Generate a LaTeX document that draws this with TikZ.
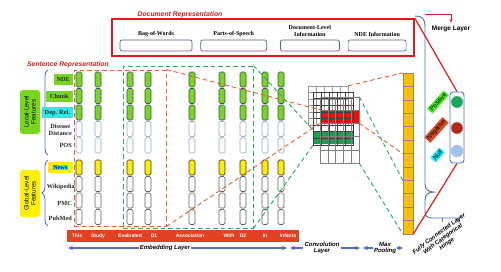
\documentclass[tikz,border=0pt]{standalone}
\usepackage{fontspec}
\setmainfont{Liberation Serif}
\setsansfont{Liberation Sans}
\usepackage{tikz}
\usetikzlibrary{
  positioning,
  arrows.meta,
  decorations.pathreplacing
}
\definecolor{docred}{RGB}{226,26,28}
\definecolor{titlered}{RGB}{204,32,32}
\definecolor{slotborder}{RGB}{80,100,140}
\definecolor{braceblue}{RGB}{76,114,190}
\definecolor{limegreen}{RGB}{120,214,30}
\definecolor{cellborder}{RGB}{60,80,110}
\definecolor{paleborder}{RGB}{150,170,195}
\definecolor{greyborder}{RGB}{95,95,95}
\definecolor{featyellow}{RGB}{255,240,0}
\definecolor{featcyan}{RGB}{50,230,230}
\definecolor{embedred}{RGB}{226,66,34}
\definecolor{poolorange}{RGB}{255,190,0}
\definecolor{poolborder}{RGB}{150,135,100}
\definecolor{convred}{RGB}{250,10,10}
\definecolor{convgreen}{RGB}{20,160,80}
\definecolor{dashred}{RGB}{226,96,56}
\definecolor{dashgreen}{RGB}{40,168,90}
\definecolor{posgreen}{RGB}{70,235,30}
\definecolor{negred}{RGB}{216,76,36}
\definecolor{nullcyan}{RGB}{0,235,245}
\definecolor{circgreen}{RGB}{20,170,90}
\definecolor{circred}{RGB}{180,40,20}
\definecolor{circblue}{RGB}{155,195,235}
\tikzset{
  docbox/.style={
    draw=docred, line width=1.6pt, inner sep=0pt
  },
  slotbox/.style={
    draw=slotborder, rounded corners=2pt, line width=0.7pt,
    minimum height=11pt, inner sep=0pt
  },
  doclabel/.style={
    font=\fontsize{6}{6.5}\selectfont\bfseries, align=center, inner sep=1pt
  },
  titletext/.style={
    font=\sffamily\bfseries\itshape\fontsize{6.8}{8}\selectfont, text=titlered
  },
  featlabel/.style={
    font=\fontsize{6.3}{6.8}\selectfont\bfseries, anchor=east, align=center,
    inner sep=1pt, minimum height=11pt, text=black!85
  },
  levelbox/.style={
    rounded corners=3pt, rotate=90, inner sep=0pt, align=center,
    font=\sffamily\fontsize{6.2}{7}\selectfont, minimum height=20pt
  },
  cell/.style={
    minimum width=6pt, minimum height=15pt, rounded corners=1.5pt,
    line width=0.7pt, inner sep=0pt
  },
  greencell/.style={cell, fill=limegreen, draw=cellborder},
  palecell/.style={cell, fill=white, draw=paleborder},
  yellowcell/.style={cell, fill=featyellow, draw=black!80},
  greycell/.style={cell, fill=white, draw=greyborder},
  redframe/.style={
    draw=dashred, line width=0.9pt, dash pattern=on 4.5pt off 3pt, inner sep=0pt
  },
  greenframe/.style={
    draw=dashgreen, line width=0.9pt, dash pattern=on 4.5pt off 3pt, inner sep=0pt
  },
  reddash/.style={draw=dashred, line width=0.9pt, dash pattern=on 4.5pt off 3pt},
  greendash/.style={draw=dashgreen, line width=0.9pt, dash pattern=on 4.5pt off 3pt},
  embedbar/.style={
    fill=embedred, minimum width=232pt, minimum height=12pt, inner sep=0pt
  },
  wordlabel/.style={
    text=white, font=\sffamily\bfseries\fontsize{5}{6}\selectfont, inner sep=0pt
  },
  gridframe/.style={draw=black!40, line width=0.5pt, inner sep=0pt},
  gridline/.style={line width=0.5pt},
  convrow/.style={minimum width=39pt, minimum height=13pt, inner sep=0pt},
  poolcell/.style={
    fill=poolorange, draw=poolborder, line width=0.5pt,
    minimum width=10pt, minimum height=13.4pt, inner sep=0pt
  },
  clsbox/.style={
    draw=braceblue, rounded corners=3pt, line width=0.9pt,
    minimum width=14pt, minimum height=71pt
  },
  unit/.style={circle, minimum size=12pt, inner sep=0pt, draw=black!25, line width=0.4pt},
  classlabel/.style={
    rotate=48, font=\sffamily\fontsize{6.3}{7}\selectfont, inner sep=1.2pt
  },
  redline/.style={draw=docred, line width=1.2pt},
  mergearrow/.style={-{Stealth[length=3.5pt,width=3pt]}, draw=docred, line width=0.9pt},
  bluebrace/.style={
    decorate, decoration={brace, amplitude=6pt}, draw=braceblue, line width=0.9pt
  },
  braceline/.style={draw=braceblue, line width=0.9pt},
  layerarrow/.style={
    -{Stealth[length=5pt,width=4.5pt]}, draw=braceblue, line width=1.3pt
  },
  layertext/.style={
    font=\sffamily\bfseries\itshape\fontsize{6}{6.5}\selectfont, align=center,
    inner sep=1pt
  }
}

\begin{document}
\begin{tikzpicture}[x=1pt, y=-1pt]
  \useasboundingbox (0,0) rectangle (501,271);

  % document representation
  \node[titletext] (doctitle) at (180,15) {Document Representation};
  \node[docbox, minimum width=302pt, minimum height=37pt] (doc) at (263,37.5) {};
  \node[slotbox, minimum width=72pt] (bow) at (156,45.5) {};
  \node[slotbox, minimum width=66pt, right=8pt of bow] (pos) {};
  \node[slotbox, minimum width=59pt, right=13pt of pos] (dli) {};
  \node[slotbox, minimum width=58pt, right=8pt of dli] (ndeinfo) {};
  \node[doclabel, above=2pt of bow] (bowlab) {Bag-of-Words};
  \node[doclabel, above=2pt of pos] (poslab) {Parts-of-Speech};
  \node[doclabel, above=2pt of dli] (dlilab) {Document-Level\\Information};
  \node[doclabel, above=2pt of ndeinfo] (ndelab) {NDE Information};

  % sentence representation
  \node[titletext] (senttitle) at (68,65) {Sentence Representation};
  \node[levelbox, fill=limegreen, minimum width=44pt] (local) at (30,112) {Local-Level\\Features};
  \node[levelbox, fill=featyellow, minimum width=47pt] (global) at (30,193.5) {Global-Level\\Features};
  \draw[bluebrace] (48,155) -- (48,70);
  \draw[bluebrace] (48,226) -- (48,160);

  \node[featlabel, fill=limegreen, minimum width=19pt] (fnde) at (73,79.5) {NDE};
  \node[featlabel, fill=limegreen, minimum width=27pt] (fchunk) at (73,96) {Chunk};
  \node[featlabel, fill=featcyan, minimum width=31pt] (fdep) at (73,112.5) {Dep. Rel.};
  \node[featlabel] (fdis) at (73,130) {Disease\\Distance};
  \node[featlabel] (fpos) at (73,145.5) {POS};
  \node[featlabel, fill=featyellow, minimum width=25pt] (fnews) at (73,167.5)
    {\setlength\fboxsep{0.6pt}\colorbox{featcyan}{News}};
  \node[featlabel] (fwiki) at (76,187) {Wikipedia};
  \node[featlabel] (fpmc) at (73,203) {PMC};
  \node[featlabel] (fpub) at (73,218) {PubMed};

  % word columns
  \foreach \cx [count=\k] in {79,98,130,148,192,222,243,265,281} {
    \node[greencell] (c\k-1) at (\cx,79.5) {};
    \node[greencell] (c\k-2) at (\cx,96) {};
    \node[greencell] (c\k-3) at (\cx,112.5) {};
    \node[palecell] (c\k-4) at (\cx,129) {};
    \node[palecell] (c\k-5) at (\cx,145.5) {};
    \node[yellowcell] (c\k-6) at (\cx,167.5) {};
    \node[greycell] (c\k-7) at (\cx,184) {};
    \node[greycell] (c\k-8) at (\cx,200.5) {};
    \node[greycell] (c\k-9) at (\cx,217) {};
  }

  \node[embedbar] (embed) at (183,236) {};
  \foreach \wx/\wtext [count=\k] in {77/This, 98/Study, 130/Evaluated, 154/D1,
      190/Association, 229/With, 243/D2, 265/In, 288/Infants}
    \node[wordlabel] (w\k) at (\wx,236) {\wtext};

  % filter windows
  \node[redframe, minimum width=92pt, minimum height=156pt] (win1) at (120,148) {};
  \node[greenframe, minimum width=130pt, minimum height=162pt] (win2) at (188,147) {};

  % convolution maps
  \node[gridframe, minimum width=40pt, minimum height=39pt] (gA) at (328,105.5) {};
  \foreach \gx in {316,324,332,340} \draw[gridline, black!40] (\gx,86) -- (\gx,125);
  \foreach \gy in {92.5,99,105.5,112,118.5} \draw[gridline, black!40] (308,\gy) -- (348,\gy);
  \node[convrow, fill=convred] (redrow) at (339.5,116.5) {};
  \node[convrow, fill=convgreen] (greenrow) at (333.5,137.5) {};
  \node[gridframe, draw=black!75, minimum width=40pt, minimum height=53pt] (gB) at (333,118.5) {};
  \foreach \gx in {321,329,337,345} \draw[gridline, black!75] (\gx,92) -- (\gx,145);
  \foreach \gy in {98.6,105.2,111.8,118.4,125,131.6,138.2} \draw[gridline, black!75] (313,\gy) -- (353,\gy);
  \node[gridframe, draw=black!50, minimum width=39pt, minimum height=66pt] (gC) at (339.5,130) {};
  \foreach \gx in {327.8,335.6,343.4,351.2} \draw[gridline, black!50] (\gx,97) -- (\gx,163);
  \foreach \gy in {110,123,136.5,150} \draw[gridline, black!50] (320,\gy) -- (359,\gy);

  % max pooling
  \foreach \i in {1,...,12}
    \node[poolcell] (p\i) at (408,{79.7+(\i-1)*13.4}) {};

  % dashed links
  \draw[reddash] (win1.north east) -- (redrow.north west);
  \draw[reddash] (win1.south east) -- (redrow.south west);
  \draw[greendash] (win2.north east) -- (greenrow.north west);
  \draw[greendash] (win2.south east) -- (greenrow.south west);
  \draw[reddash] (gA.north east) -- (p1.north west);
  \draw[reddash] (redrow.south east) -- (p6.south west);
  \draw[greendash] (gC.north east) -- (p8.south west);
  \draw[greendash] (gC.south east) -- (p12.south west);

  % classifier
  \node[clsbox] (cls) at (457,127.5) {};
  \node[unit, fill=circgreen] (u1) at (457,102) {};
  \node[unit, fill=circred] (u2) at (457,128) {};
  \node[unit, fill=circblue] (u3) at (457,151) {};
  \node[classlabel, fill=posgreen] (lpos) at (438,102) {Positive};
  \node[classlabel, fill=negred] (lneg) at (436.5,130) {Negative};
  \node[classlabel, fill=nullcyan] (lnull) at (437.5,155) {Null};

  \draw[braceline] (415,16) .. controls (422,16) and (425,19) .. (425,26) -- (425,184)
    .. controls (425,189) and (428,192) .. (434,192)
    .. controls (428,192) and (425,195) .. (425,200) -- (425,211)
    .. controls (425,216) and (427,218) .. (432,218) -- (457,218) -- (459,222);
  \draw[braceline] (442,218) -- (442,222);

  \node[font=\sffamily\bfseries\fontsize{6.5}{7}\selectfont] (merge) at (451,29) {Merge Layer};
  \coordinate (mtop) at (425,14);
  \draw[mergearrow] (mtop) -| (merge.north);

  \draw[redline] (doc.north east) -- (cls.north);
  \draw[redline] (cls.south) -- (p12.south east);

  % layer captions
  \node[layertext] (embtext) at (165,248) {Embedding Layer};
  \coordinate (embL) at (68,248);
  \coordinate (embR) at (287,248);
  \draw[layerarrow] (embtext) -- (embL);
  \draw[layerarrow] (embtext) -- (embR);
  \node[layertext] (convtext) at (322,248) {Convolution\\Layer};
  \coordinate (convL) at (290,248);
  \coordinate (convR) at (360,248);
  \draw[layerarrow] (convtext) -- (convL);
  \draw[layerarrow] (convtext) -- (convR);
  \node[layertext] (pooltext) at (385,248) {Max\\Pooling};
  \coordinate (poolL) at (363,248);
  \coordinate (poolR) at (403,248);
  \draw[layerarrow] (pooltext) -- (poolL);
  \draw[layerarrow] (pooltext) -- (poolR);
  \node[layertext, rotate=37] (fctext) at (443,239) {Fully Connected Layer\\With Categorical\\Hinge};

\end{tikzpicture}
\end{document}
